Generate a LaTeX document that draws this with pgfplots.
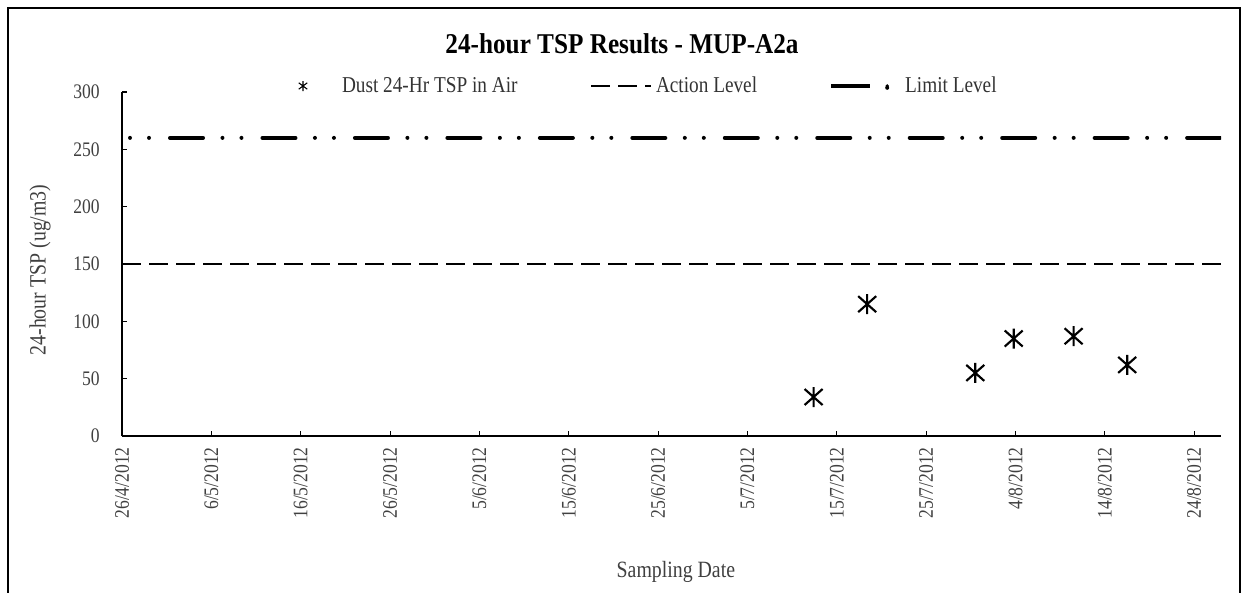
\documentclass[border=0pt]{standalone}
\usepackage{fontspec}
\setmainfont{Liberation Serif}[FakeStretch=0.85]
\newfontfamily\titlefont{Liberation Serif}[FakeStretch=0.88]
\usepackage{pgfplots}
\pgfplotsset{compat=1.18}

\pgfdeclareplotmark{tspstar}{%
  \pgfpathmoveto{\pgfpoint{0pt}{\pgfplotmarksize}}%
  \pgfpathlineto{\pgfpoint{0pt}{-\pgfplotmarksize}}%
  \pgfpathmoveto{\pgfpoint{-0.9\pgfplotmarksize}{0.8\pgfplotmarksize}}%
  \pgfpathlineto{\pgfpoint{0.9\pgfplotmarksize}{-0.8\pgfplotmarksize}}%
  \pgfpathmoveto{\pgfpoint{-0.9\pgfplotmarksize}{-0.8\pgfplotmarksize}}%
  \pgfpathlineto{\pgfpoint{0.9\pgfplotmarksize}{0.8\pgfplotmarksize}}%
  \pgfusepathqstroke}

\begin{document}
\begin{tikzpicture}
\useasboundingbox (0pt,0pt) rectangle (935.25pt,444.75pt);
\draw[line width=1.1pt] (6pt,-5pt) -- (6pt,438.75pt) -- (930pt,438.75pt) -- (930pt,-5pt);
\begin{axis}[
  at={(91.5pt,117.75pt)}, anchor=south west,
  scale only axis, width=824.25pt, height=258pt,
  xmin=0, xmax=123, ymin=0, ymax=300,
  enlargelimits=false,
  axis x line=bottom, axis y line=left,
  axis line style={-, line width=1.1pt, black},
  every outer x axis line/.append style={-},
  every outer y axis line/.append style={-},
  tick align=inside, major tick length=4pt,
  tick style={black, line width=0.8pt},
  xtick={0,10,...,120},
  xticklabels={26/4/2012,6/5/2012,16/5/2012,26/5/2012,5/6/2012,15/6/2012,25/6/2012,5/7/2012,15/7/2012,25/7/2012,4/8/2012,14/8/2012,24/8/2012},
  ytick={0,50,...,300},
  /pgf/number format/assume math mode=true,
  tick label style={font=\fontsize{15.5}{18}\selectfont, text=black!75},
  xticklabel style={rotate=90, anchor=east, inner sep=0pt},
  xticklabel shift=8.25pt,
  yticklabel style={anchor=east, inner sep=0pt},
  yticklabel shift=16.5pt,
  title={24-hour TSP Results - MUP-A2a},
  title style={at={(axis description cs:0.455,1.117)}, anchor=center, font=\titlefont\bfseries\fontsize{21.5}{25}\selectfont},
  xlabel={Sampling Date},
  xlabel style={at={(axis description cs:0.504,-0.395)}, anchor=center, font=\fontsize{17.5}{20}\selectfont, text=black!75},
  ylabel={24-hour TSP (ug/m3)},
  ylabel style={at={(axis description cs:-0.0746,0.4826)}, anchor=center, font=\fontsize{17.5}{20}\selectfont, text=black!75},
  legend columns=3,
  legend cell align=left,
  legend style={draw=none, fill=none, inner sep=0pt, outer sep=0pt,
    nodes={inner sep=0pt, outer sep=0pt},
    at={(axis description cs:0.15742,1.01744)}, anchor=west,
    font=\fontsize{17}{20}\selectfont, text=black!80},
]
\addplot[only marks, mark=tspstar, mark size=7.5pt, mark options={line width=1.6pt, black},
  legend image code/.code={
    \path[draw=none, fill=none] (-6pt,0pt) (29.25pt,0pt);
    \draw[solid, line width=0.8pt, black] (0pt,-3.75pt) -- (0pt,3.75pt) (-3.2pt,-2.4pt) -- (3.2pt,2.4pt) (-3.2pt,2.4pt) -- (3.2pt,-2.4pt);
  }] coordinates {
  (77.4,34) (83.4,115) (95.5,55) (99.8,85) (106.5,87) (112.5,62)
};
\addlegendentry{\makebox[186pt][l]{Dust 24-Hr TSP in Air}}

\addplot[black, line width=1.5pt, dash pattern=on 14.25pt off 6pt,
  legend image code/.code={
    \draw[black, line width=1.5pt, dash pattern=on 14.25pt off 6pt] (0pt,0pt) -- (45pt,0pt);
    \path[draw=none, fill=none] (48.75pt,0pt);
  }] coordinates {(0,150) (123,150)};
\addlegendentry{\makebox[129.75pt][l]{Action Level}}

\addplot[black, line width=3pt, line cap=round,
  dash pattern=on 0pt off 14.25pt on 0pt off 15.75pt on 24.75pt off 14.6pt,
  dash phase=63.35pt,
  legend image code/.code={
    \draw[solid, line cap=butt, black, line width=3.2pt] (0pt,0pt) -- (29.25pt,0pt);
    \fill[black] (42pt,0pt) circle (1.4pt);
    \path[draw=none, fill=none] (55.5pt,0pt);
  }] coordinates {(0,260) (123,260)};
\addlegendentry{Limit Level}
\end{axis}
\end{tikzpicture}
\end{document}
